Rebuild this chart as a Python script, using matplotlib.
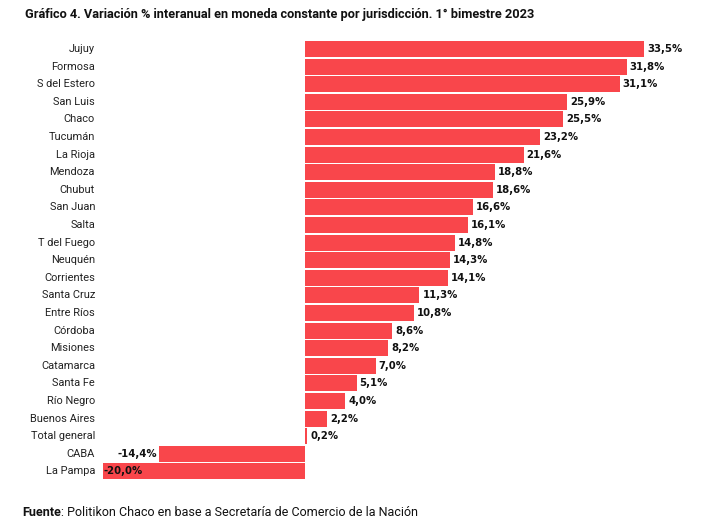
import matplotlib
matplotlib.use("Agg")
import matplotlib.pyplot as plt
from matplotlib.transforms import blended_transform_factory

categories = ["Jujuy", "Formosa", "S del Estero", "San Luis", "Chaco", "Tucumán",
              "La Rioja", "Mendoza", "Chubut", "San Juan", "Salta", "T del Fuego",
              "Neuquén", "Corrientes", "Santa Cruz", "Entre Ríos", "Córdoba",
              "Misiones", "Catamarca", "Santa Fe", "Río Negro", "Buenos Aires",
              "Total general", "CABA", "La Pampa"]
values = [33.5, 31.8, 31.1, 25.9, 25.5, 23.2, 21.6, 18.8, 18.6, 16.6, 16.1, 14.8,
          14.3, 14.1, 11.3, 10.8, 8.6, 8.2, 7.0, 5.1, 4.0, 2.2, 0.2, -14.4, -20.0]

title = "Gráfico 4. Variación % interanual en moneda constante por jurisdicción. 1° bimestre 2023"
source_bold = "Fuente"
source_rest = ": Politikon Chaco en base a Secretaría de Comercio de la Nación"

W, H = 707, 525
fig = plt.figure(figsize=(W / 100, H / 100), dpi=100)
renderer = fig.canvas.get_renderer()


def fit_size(text, family, weight, target_px, base=10.0):
    t = fig.text(0, 0, text, fontsize=base, family=family, fontweight=weight)
    w = t.get_window_extent(renderer).width
    t.remove()
    return base * target_px / w


# axes geometry in pixels
zero_px = 305.0
ppu = 10.12
L_px, R_px = 98.0, 700.0
row = 17.6
top_px = 49 - row / 2
bot_px = top_px + row * len(categories)
ax = fig.add_axes([L_px / W, 1 - bot_px / H, (R_px - L_px) / W, (bot_px - top_px) / H])
ax.set_xlim((L_px - zero_px) / ppu, (R_px - zero_px) / ppu)
ax.set_ylim(len(categories) - 0.5, -0.5)
ax.axis('off')

color = "#F9464B"
y = list(range(len(categories)))
ax.barh(y, values, height=0.9, color=color, edgecolor='none')

val_family = ['DejaVu Sans']
val_size = fit_size("33,5%", val_family, 'bold', 35)
txt_family = ['Roboto', 'DejaVu Sans']
cat_size = fit_size("S del Estero", txt_family, 'normal', 58)
title_size = fit_size(title, txt_family, 'bold', 512)


def fmt(v):
    return ("%.1f%%" % v).replace(".", ",")


gap = 3 / ppu
for yi, v in zip(y, values):
    if v >= 0:
        x, ha = v + gap, 'left'
    elif v > -16:
        x, ha = v - gap * 0.7, 'right'
    else:
        x, ha = v + 0.1, 'left'
    ax.text(x, yi, fmt(v), ha=ha, va='center', fontsize=val_size,
            family=val_family, fontweight='bold', color='#111111')

tr = blended_transform_factory(fig.transFigure, ax.transData)
for yi, c in zip(y, categories):
    ax.text(95 / W, yi, c, transform=tr, ha='right', va='center', fontsize=cat_size,
            family=txt_family, color='#222222')

fig.text(25 / W, 1 - 14.5 / H, title, ha='left', va='center', fontsize=title_size,
         family=txt_family, fontweight='bold', color='#111111')

src_size = fit_size(source_bold + source_rest, txt_family, 'normal', 392)
tb = fig.text(22 / W, 1 - 513 / H, source_bold, ha='left', va='center', fontsize=src_size,
              family=txt_family, fontweight='bold', color='#111111')
bw = tb.get_window_extent(renderer).width
fig.text((22 + bw) / W, 1 - 513 / H, source_rest, ha='left', va='center', fontsize=src_size,
         family=txt_family, color='#111111')

fig.savefig("out.png", dpi=100, facecolor='white')
